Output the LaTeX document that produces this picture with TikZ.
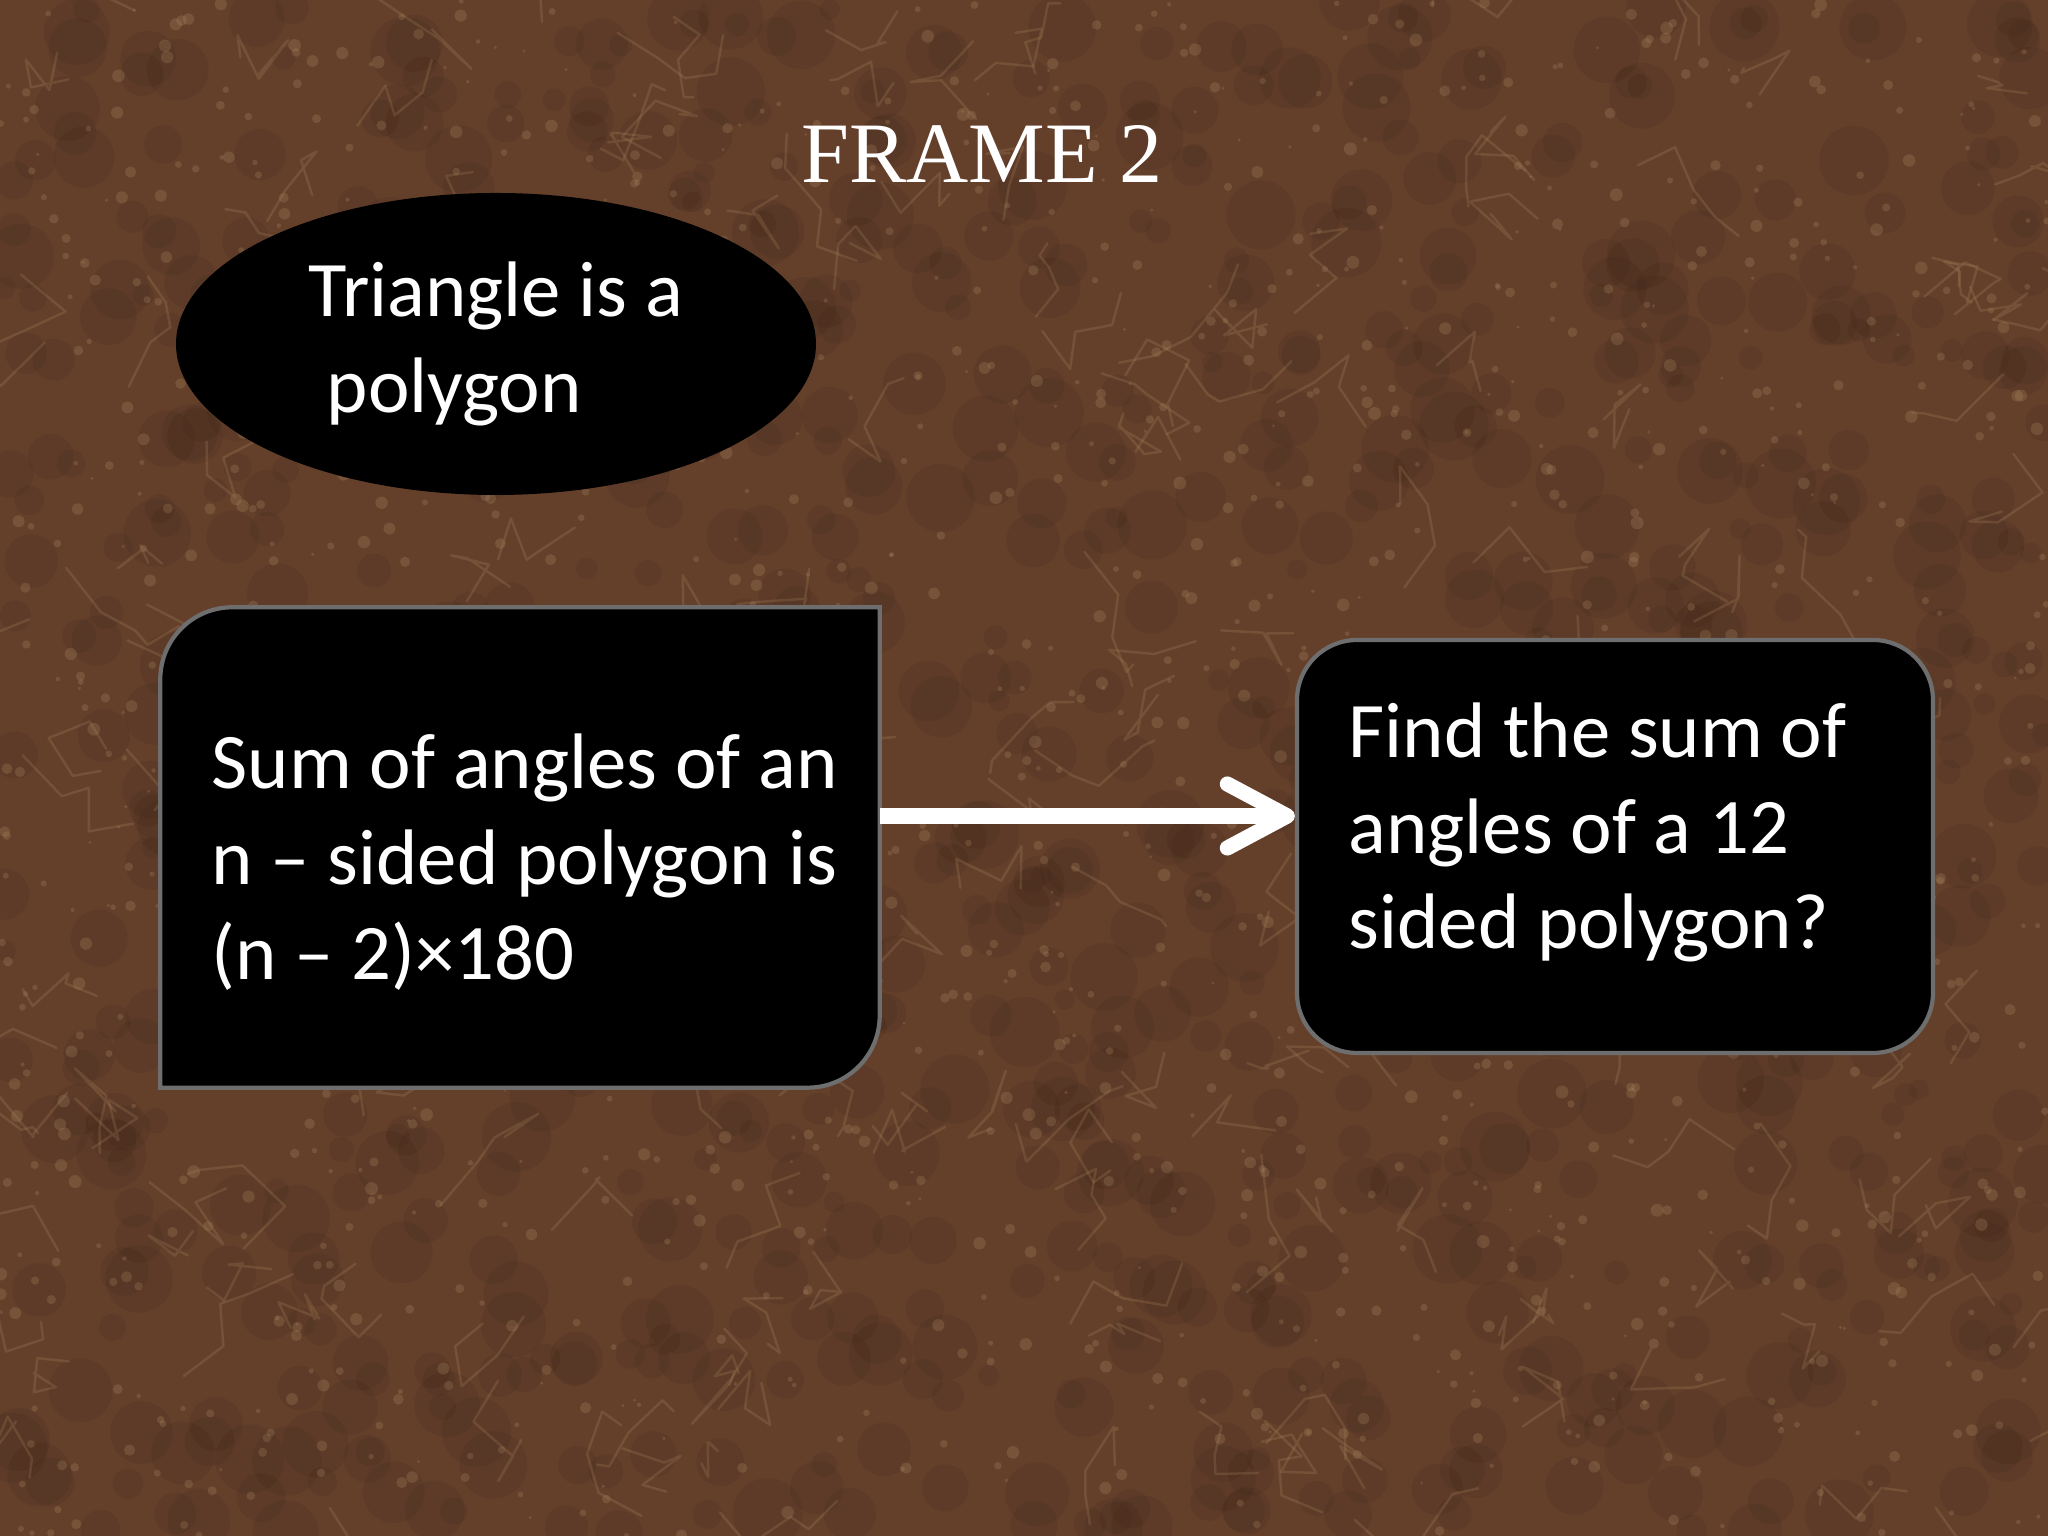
\documentclass[tikz,border=0pt]{standalone}
\usepackage{fontspec}
\setmainfont{Carlito}
\newfontfamily\titlefont{Liberation Serif}
\usetikzlibrary{arrows.meta, positioning, shapes.geometric}

\definecolor{marblebase}{RGB}{100,64,43}
\definecolor{marblelight}{RGB}{178,142,102}
\definecolor{marbledark}{RGB}{56,33,22}
\definecolor{framegray}{RGB}{110,110,110}

\tikzset{
  slidetext/.style={text=white, inner sep=0pt, align=left, font=\fontsize{22.4pt}{27.2pt}\selectfont},
  bubble/.style={ellipse, fill=black, minimum width=6.4cm, minimum height=3.02cm, inner sep=0pt},
  panel/.style={fill=black, draw=framegray, line width=1.2pt},
  boxarea/.style={rectangle, inner sep=0pt},
  flow/.style={white, line width=4.3pt, -{Straight Barb[length=6mm, width=6.4mm, round]}},
  vein/.style={marblelight, opacity=0.22, line width=0.7pt, line cap=round, line join=round},
}

\begin{document}
\begin{tikzpicture}
\useasboundingbox (0,0) rectangle (20.48,15.36);
% marble background
\fill[marblebase] (0,0) rectangle (20.48,15.36);
\pgfmathsetseed{42}
\foreach \i in {1,...,900} {
  \pgfmathsetmacro{\mx}{20.48*rnd}
  \pgfmathsetmacro{\my}{15.36*rnd}
  \pgfmathsetmacro{\mr}{0.1+0.25*rnd}
  \fill[marbledark, opacity=0.14] (\mx,\my) circle (\mr);
}
\foreach \i in {1,...,1400} {
  \pgfmathsetmacro{\mx}{20.48*rnd}
  \pgfmathsetmacro{\my}{15.36*rnd}
  \pgfmathsetmacro{\mr}{0.015+0.05*rnd}
  \fill[marblelight, opacity=0.25] (\mx,\my) circle (\mr);
}
\foreach \i in {1,...,220} {
  \pgfmathsetmacro{\mx}{20.48*rnd}
  \pgfmathsetmacro{\my}{15.36*rnd}
  \draw[vein] (\mx,\my) -- ++({0.45*rand},{0.45*rand}) -- ++({0.45*rand},{0.45*rand})
    -- ++({0.45*rand},{0.45*rand}) -- ++({0.45*rand},{0.45*rand});
}

% title
\node[text=white, font=\titlefont\fontsize{24.5pt}{29pt}\selectfont, inner sep=0pt, anchor=base] (title) at (9.82,13.53) {FRAME 2};

% ellipse
\node[bubble, slidetext] (tri) at (4.96,11.92) {Triangle is a\\\hspace*{0.23em}polygon};

% left box (round diagonal corners)
\node[boxarea, minimum width=7.18cm, minimum height=4.79cm] (lbox) at (5.20,6.885) {};
\draw[panel] (lbox.south west) -- ([yshift=-0.72cm]lbox.north west)
  arc[start angle=180, end angle=90, radius=0.72cm] -- (lbox.north east)
  -- ([yshift=0.72cm]lbox.south east)
  arc[start angle=0, end angle=-90, radius=0.72cm] -- cycle;
\node[slidetext, anchor=north west] (ltext) at (2.11,8.11) {\rule{0pt}{0.8em}Sum of angles of an\\n – sided polygon is\\(n – 2)×180};

% right box
\node[boxarea, panel, rounded corners=0.6cm, minimum width=6.36cm, minimum height=4.13cm] (rbox) at (16.15,6.895) {};
\node[slidetext, anchor=north west] (rtext) at (13.48,8.42) {\rule{0pt}{0.8em}Find the sum of\\angles of a 12\\sided polygon?};

% arrow
\draw[flow] ([yshift=0.315cm]lbox.east) -- ([yshift=0.305cm]rbox.west);
\end{tikzpicture}
\end{document}
